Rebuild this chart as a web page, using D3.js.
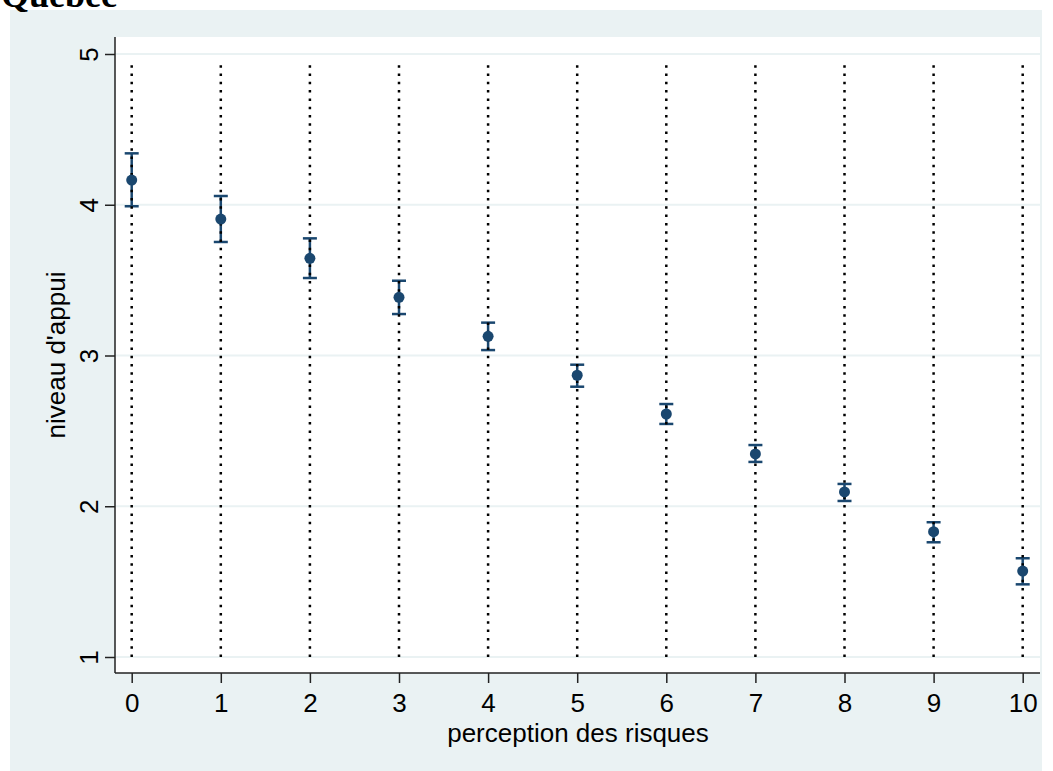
<!DOCTYPE html>
<html>
<head>
<meta charset="utf-8">
<script src="https://cdn.jsdelivr.net/npm/d3@7"></script>
<style>
  body { margin: 0; background: #ffffff; }
  svg { display: block; }
</style>
</head>
<body>
<script>
// values
var risk = [0, 1, 2, 3, 4, 5, 6, 7, 8, 9, 10];
var support = [4.164, 3.905, 3.645, 3.386, 3.127, 2.869, 2.612, 2.347, 2.095, 1.831, 1.570];
var ciLow = [3.990, 3.753, 3.514, 3.275, 3.036, 2.793, 2.546, 2.294, 2.035, 1.761, 1.482];
var ciHigh = [4.341, 4.058, 3.777, 3.496, 3.218, 2.939, 2.678, 2.406, 2.148, 1.894, 1.655];
var yTicks = [1, 2, 3, 4, 5];
var xTicks = [0, 1, 2, 3, 4, 5, 6, 7, 8, 9, 10];

var W = 1053, H = 771;
var bgColor = "#eaf2f3";
var navy = "#1a476f";
var font = "'Liberation Sans', Arial, Helvetica, sans-serif";

// plot region
var plot = {left: 115, right: 1040, top: 37, bottom: 673};

var x = d3.scaleLinear().domain([0, 10]).range([131.7, 1022.7]);
var y = d3.scaleLinear().domain([1, 5]).range([657, 54]);

var svg = d3.select("body").append("svg")
    .attr("width", W)
    .attr("height", H);

// outer graph background
svg.append("rect")
    .attr("x", 10).attr("y", 10)
    .attr("width", 1032).attr("height", H - 10)
    .attr("fill", bgColor);

// title, cut at the top edge
svg.append("text")
    .attr("x", 1)
    .attr("y", 7)
    .style("font-family", "'Liberation Serif', 'Times New Roman', serif")
    .style("font-weight", "bold")
    .style("font-size", "36px")
    .attr("fill", "#000")
    .text("Québec");

// white plot region
svg.append("rect")
    .attr("x", plot.left).attr("y", plot.top)
    .attr("width", plot.right - plot.left)
    .attr("height", plot.bottom - plot.top)
    .attr("fill", "#fff");

// horizontal grid
svg.append("g").selectAll("line")
    .data(yTicks)
    .enter().append("line")
    .attr("x1", plot.left).attr("x2", plot.right)
    .attr("y1", d => y(d)).attr("y2", d => y(d))
    .attr("stroke", bgColor)
    .attr("stroke-width", 2);

// confidence intervals
var ci = svg.append("g");
risk.forEach(function(r, i) {
    var cx = x(r);
    ci.append("line")
        .attr("x1", cx).attr("x2", cx)
        .attr("y1", y(ciLow[i])).attr("y2", y(ciHigh[i]))
        .attr("stroke", navy).attr("stroke-width", 2.5);
    [ciLow[i], ciHigh[i]].forEach(function(v) {
        ci.append("line")
            .attr("x1", cx - 7).attr("x2", cx + 7)
            .attr("y1", y(v)).attr("y2", y(v))
            .attr("stroke", navy).attr("stroke-width", 2.5);
    });
});

// dotted reference lines at each x
svg.append("g").selectAll("line")
    .data(xTicks)
    .enter().append("line")
    .attr("x1", d => x(d)).attr("x2", d => x(d))
    .attr("y1", y(1)).attr("y2", y(4.95))
    .attr("stroke", "#000")
    .attr("stroke-width", 2.5)
    .attr("stroke-dasharray", "2.5,5.8");

// means
svg.append("g").selectAll("circle")
    .data(risk)
    .enter().append("circle")
    .attr("cx", d => x(d))
    .attr("cy", (d, i) => y(support[i]))
    .attr("r", 5.5)
    .attr("fill", navy);

// axes
var yAxis = svg.append("g")
    .attr("transform", "translate(" + plot.left + ",0)")
    .call(d3.axisLeft(y).tickValues(yTicks).tickSize(10).tickFormat(d3.format("d")));
yAxis.select(".domain").remove();
yAxis.selectAll(".tick line").attr("stroke", "#222").attr("stroke-width", 1.5);
yAxis.selectAll(".tick text")
    .attr("x", null).attr("dy", null)
    .attr("text-anchor", "middle")
    .attr("transform", "translate(-17,0) rotate(-90)")
    .style("font-family", font)
    .style("font-size", "26px")
    .attr("fill", "#000");

var xAxis = svg.append("g")
    .attr("transform", "translate(0," + plot.bottom + ")")
    .call(d3.axisBottom(x).tickValues(xTicks).tickSize(10).tickFormat(d3.format("d")));
xAxis.select(".domain").remove();
xAxis.selectAll(".tick line").attr("stroke", "#222").attr("stroke-width", 1.5);
xAxis.selectAll(".tick text")
    .attr("y", 39).attr("dy", null)
    .style("font-family", font)
    .style("font-size", "26px")
    .attr("fill", "#000");

// axis lines along the plot region
svg.append("line")
    .attr("x1", plot.left).attr("x2", plot.left)
    .attr("y1", plot.top).attr("y2", plot.bottom)
    .attr("stroke", "#222").attr("stroke-width", 1.5);
svg.append("line")
    .attr("x1", plot.left).attr("x2", plot.right)
    .attr("y1", plot.bottom).attr("y2", plot.bottom)
    .attr("stroke", "#222").attr("stroke-width", 1.5);

// axis titles
svg.append("text")
    .attr("x", (plot.left + plot.right) / 2 + 0.5)
    .attr("y", 742)
    .attr("text-anchor", "middle")
    .style("font-family", font)
    .style("font-size", "26px")
    .text("perception des risques");

svg.append("text")
    .attr("transform", "translate(65," + ((plot.top + plot.bottom) / 2) + ") rotate(-90)")
    .attr("text-anchor", "middle")
    .style("font-family", font)
    .style("font-size", "26px")
    .text("niveau d'appui");
</script>
</body>
</html>
